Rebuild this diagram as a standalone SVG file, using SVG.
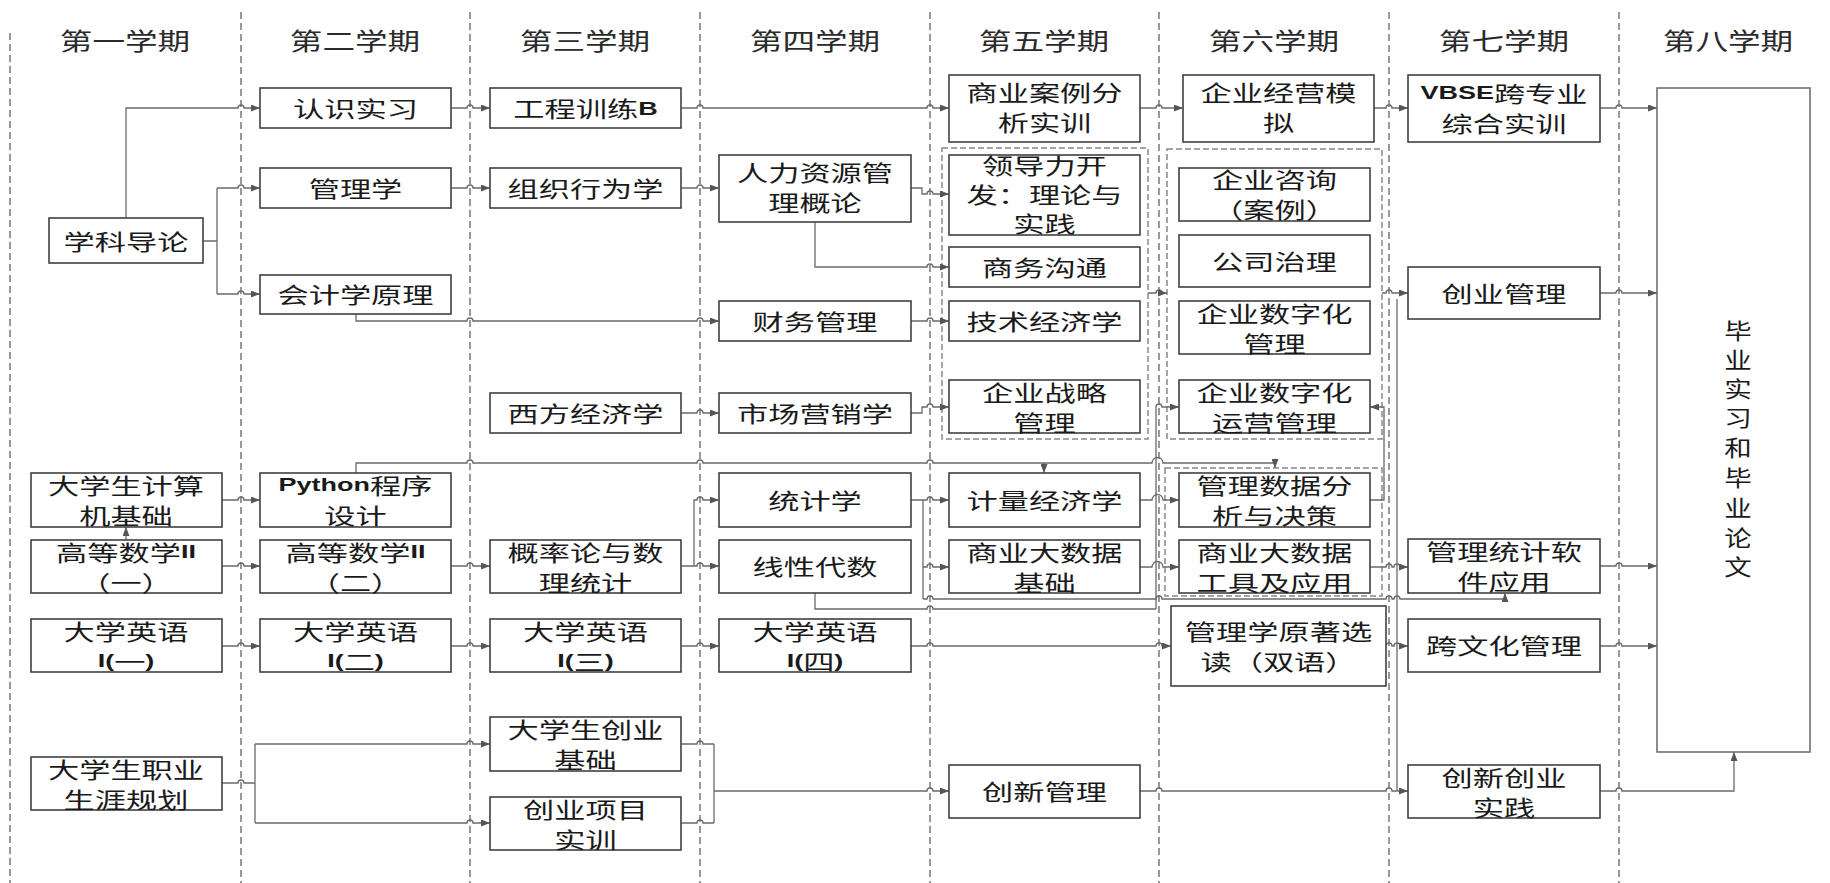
<svg xmlns="http://www.w3.org/2000/svg" width="1830" height="883" viewBox="0 0 1830 883">
<style>
.bx{fill:#fff;stroke:#404040;stroke-width:1.6}
.t{font-family:"Noto Sans CJK SC","Noto Sans",sans-serif;font-size:22px;fill:#1a1a1a;text-anchor:middle;dominant-baseline:central}
.h{font-family:"Noto Sans CJK SC","Noto Sans",sans-serif;font-size:24px;fill:#2a2a2a;text-anchor:middle;dominant-baseline:central}
.b{font-family:"Liberation Sans",Arial,sans-serif;font-weight:bold;font-size:19px}
.cn{fill:none;stroke:#6a6a6a;stroke-width:1.3}
.ar{marker-end:url(#ah)}
.dv{stroke:#555;stroke-width:1.2;stroke-dasharray:7 4;fill:none}
.grp{fill:none;stroke:#888;stroke-width:1.5;stroke-dasharray:6 3}
</style>
<defs>
<marker id="ah" markerWidth="9" markerHeight="7" refX="9" refY="3.5" orient="auto" markerUnits="userSpaceOnUse"><path d="M0,0 L9,3.5 L0,7 z" fill="#555"/></marker>
</defs>
<rect width="1830" height="883" fill="#fff"/>
<g id="dividers">
<line class="dv" x1="10" y1="33" x2="10" y2="883"/>
<line class="dv" x1="241" y1="12" x2="241" y2="883"/>
<line class="dv" x1="470" y1="12" x2="470" y2="883"/>
<line class="dv" x1="700" y1="12" x2="700" y2="883"/>
<line class="dv" x1="930" y1="12" x2="930" y2="883"/>
<line class="dv" x1="1159" y1="12" x2="1159" y2="883"/>
<line class="dv" x1="1389" y1="12" x2="1389" y2="883"/>
<line class="dv" x1="1619" y1="12" x2="1619" y2="883"/>
</g>
<g id="headers">
<text class="h" transform="translate(125 40) scale(1.36 1)">第一学期</text>
<text class="h" transform="translate(355 40) scale(1.36 1)">第二学期</text>
<text class="h" transform="translate(585 40) scale(1.36 1)">第三学期</text>
<text class="h" transform="translate(815 40) scale(1.36 1)">第四学期</text>
<text class="h" transform="translate(1044 40) scale(1.36 1)">第五学期</text>
<text class="h" transform="translate(1274 40) scale(1.36 1)">第六学期</text>
<text class="h" transform="translate(1504 40) scale(1.36 1)">第七学期</text>
<text class="h" transform="translate(1728 40) scale(1.36 1)">第八学期</text>
</g>
<g id="groups">
<rect class="grp" x="942" y="148" width="206" height="291"/>
<rect class="grp" x="1167" y="149" width="215" height="290"/>
<rect class="grp" x="1165" y="468" width="217" height="128"/>
</g>
<g id="connectors">
<path class="cn ar" d="M126 218 V108 H238 a3 3 0 0 1 6 0 H260"/>
<path class="cn" d="M203 241 H217 M217 188 V294"/>
<path class="cn ar" d="M217 188 H238 a3 3 0 0 1 6 0 H260"/>
<path class="cn ar" d="M217 294 H238 a3 3 0 0 1 6 0 H260"/>
<path class="cn ar" d="M451 108 H467 a3 3 0 0 1 6 0 H490"/>
<path class="cn ar" d="M451 188 H467 a3 3 0 0 1 6 0 H490"/>
<path class="cn ar" d="M681 108 H697 a3 3 0 0 1 6 0 H927 a3 3 0 0 1 6 0 H949"/>
<path class="cn ar" d="M1140 108 H1156 a3 3 0 0 1 6 0 H1183"/>
<path class="cn ar" d="M1374 108 H1386 a3 3 0 0 1 6 0 H1408"/>
<path class="cn ar" d="M1600 108 H1616 a3 3 0 0 1 6 0 H1657"/>
<path class="cn ar" d="M681 188 H697 a3 3 0 0 1 6 0 H719"/>
<path class="cn ar" d="M911 188 H922 V194 H927 a3 3 0 0 1 6 0 H949"/>
<path class="cn ar" d="M815 222 V267 H927 a3 3 0 0 1 6 0 H949"/>
<path class="cn ar" d="M356 314 V321 H467 a3 3 0 0 1 6 0 H697 a3 3 0 0 1 6 0 H719"/>
<path class="cn ar" d="M911 321 H927 a3 3 0 0 1 6 0 H949"/>
<path class="cn ar" d="M681 413 H697 a3 3 0 0 1 6 0 H719"/>
<path class="cn ar" d="M911 413 H922 V407 H927 a3 3 0 0 1 6 0 H949"/>
<path class="cn ar" d="M1148 293 H1156 a3 3 0 0 1 6 0 H1167"/>
<path class="cn ar" d="M1382 293 H1386 a3 3 0 0 1 6 0 H1408"/>
<path class="cn" d="M1397 299 V791"/>
<path class="cn ar" d="M1600 293 H1616 a3 3 0 0 1 6 0 H1657"/>
<path class="cn ar" d="M356 473 V463 H467 a3 3 0 0 1 6 0 H697 a3 3 0 0 1 6 0 H927 a3 3 0 0 1 6 0 H1152 a5.5 5.5 0 0 1 11 0 H1275 V468"/>
<path class="cn ar" d="M1044 463 V473"/>
<path class="cn ar" d="M222 500 H238 a3 3 0 0 1 6 0 H260"/>
<path class="cn ar" d="M126 540 V527"/>
<path class="cn ar" d="M222 566 H238 a3 3 0 0 1 6 0 H260"/>
<path class="cn ar" d="M451 566 H467 a3 3 0 0 1 6 0 H490"/>
<path class="cn ar" d="M681 566 H697 a3 3 0 0 1 6 0 H719"/>
<path class="cn ar" d="M694 566 V500 H697 a3 3 0 0 1 6 0 H719"/>
<path class="cn ar" d="M911 500 H927 a3 3 0 0 1 6 0 H949"/>
<path class="cn" d="M923 500 V599"/>
<path class="cn ar" d="M923 567 H927 a3 3 0 0 1 6 0 H949"/>
<path class="cn ar" d="M923 599 H927 a3 3 0 0 1 6 0 H1156 a3 3 0 0 1 6 0 H1386 a3 3 0 0 1 6 0 H1394 a3 3 0 0 1 6 0 H1505 V593"/>
<path class="cn" d="M815 593 V609 H927 a3 3 0 0 1 6 0 H1156"/>
<path class="cn ar" d="M1156 609 V407 a3 3 0 0 1 6 0 H1179"/>
<path class="cn ar" d="M1140 500 H1152 a5.5 5.5 0 0 1 11 0 H1179"/>
<path class="cn ar" d="M1140 567 H1152 a5.5 5.5 0 0 1 11 0 H1179"/>
<path class="cn ar" d="M1370 500 H1384 V407 H1370"/>
<path class="cn ar" d="M1370 567 H1386 a3 3 0 0 1 6 0 H1394 a3 3 0 0 1 6 0 H1408"/>
<path class="cn ar" d="M1600 566 H1616 a3 3 0 0 1 6 0 H1657"/>
<path class="cn ar" d="M222 646 H238 a3 3 0 0 1 6 0 H260"/>
<path class="cn ar" d="M451 646 H467 a3 3 0 0 1 6 0 H490"/>
<path class="cn ar" d="M681 646 H697 a3 3 0 0 1 6 0 H719"/>
<path class="cn ar" d="M911 646 H927 a3 3 0 0 1 6 0 H1156 a3 3 0 0 1 6 0 H1171"/>
<path class="cn ar" d="M1386 646 a3 3 0 0 1 6 0 H1394 a3 3 0 0 1 6 0 H1408"/>
<path class="cn ar" d="M1600 646 H1616 a3 3 0 0 1 6 0 H1657"/>
<path class="cn" d="M222 783 H238 a3 3 0 0 1 6 0 H255 M255 744 V823"/>
<path class="cn ar" d="M255 744 H467 a3 3 0 0 1 6 0 H490"/>
<path class="cn ar" d="M255 823 H467 a3 3 0 0 1 6 0 H490"/>
<path class="cn" d="M681 744 H697 a3 3 0 0 1 6 0 H714 M681 823 H697 a3 3 0 0 1 6 0 H714 M714 744 V823"/>
<path class="cn ar" d="M714 791 H927 a3 3 0 0 1 6 0 H949"/>
<path class="cn ar" d="M1140 791 H1156 a3 3 0 0 1 6 0 H1386 a3 3 0 0 1 6 0 H1408"/>
<path class="cn ar" d="M1600 791 H1616 a3 3 0 0 1 6 0 H1734 V752"/>
</g>
<g id="n-xkdl"><rect class="bx" x="49" y="218" width="154" height="45"/><text class="t" transform="translate(126 241) scale(1.42 1)">学科导论</text></g>
<g id="n-jsjjc"><rect class="bx" x="31" y="473" width="191" height="54"/><text class="t" transform="translate(126 473) scale(1.42 1)"><tspan x="0" y="11">大学生计算</tspan><tspan x="0" y="41">机基础</tspan></text></g>
<g id="n-gdsx1"><rect class="bx" x="31" y="540" width="191" height="53"/><text class="t" transform="translate(126 540) scale(1.42 1)"><tspan x="0" y="11">高等数学<tspan class="b">II</tspan></tspan><tspan x="0" y="41">（一）</tspan></text></g>
<g id="n-yy1"><rect class="bx" x="31" y="619" width="191" height="53"/><text class="t" transform="translate(126 619) scale(1.42 1)"><tspan x="0" y="11">大学英语</tspan><tspan x="0" y="41"><tspan class="b">I(</tspan>一<tspan class="b">)</tspan></tspan></text></g>
<g id="n-zysy"><rect class="bx" x="31" y="757" width="191" height="53"/><text class="t" transform="translate(126 757) scale(1.42 1)"><tspan x="0" y="11">大学生职业</tspan><tspan x="0" y="41">生涯规划</tspan></text></g>
<g id="n-rssx"><rect class="bx" x="260" y="88" width="191" height="40"/><text class="t" transform="translate(355.5 108) scale(1.42 1)">认识实习</text></g>
<g id="n-glx"><rect class="bx" x="260" y="168" width="191" height="40"/><text class="t" transform="translate(355.5 188) scale(1.42 1)">管理学</text></g>
<g id="n-kjxyl"><rect class="bx" x="260" y="275" width="191" height="39"/><text class="t" transform="translate(355.5 294) scale(1.42 1)">会计学原理</text></g>
<g id="n-python"><rect class="bx" x="260" y="473" width="191" height="54"/><text class="t" transform="translate(355.5 473) scale(1.42 1)"><tspan x="0" y="11"><tspan class="b">Python</tspan>程序</tspan><tspan x="0" y="41">设计</tspan></text></g>
<g id="n-gdsx2"><rect class="bx" x="260" y="540" width="191" height="53"/><text class="t" transform="translate(355.5 540) scale(1.42 1)"><tspan x="0" y="11">高等数学<tspan class="b">II</tspan></tspan><tspan x="0" y="41">（二）</tspan></text></g>
<g id="n-yy2"><rect class="bx" x="260" y="619" width="191" height="53"/><text class="t" transform="translate(355.5 619) scale(1.42 1)"><tspan x="0" y="11">大学英语</tspan><tspan x="0" y="41"><tspan class="b">I(</tspan>二<tspan class="b">)</tspan></tspan></text></g>
<g id="n-gcxl"><rect class="bx" x="490" y="88" width="191" height="40"/><text class="t" transform="translate(585.5 108) scale(1.42 1)">工程训练<tspan class="b">B</tspan></text></g>
<g id="n-zzxwx"><rect class="bx" x="490" y="168" width="191" height="40"/><text class="t" transform="translate(585.5 188) scale(1.42 1)">组织行为学</text></g>
<g id="n-xfjjx"><rect class="bx" x="490" y="393" width="191" height="40"/><text class="t" transform="translate(585.5 413) scale(1.42 1)">西方经济学</text></g>
<g id="n-gll"><rect class="bx" x="490" y="540" width="191" height="53"/><text class="t" transform="translate(585.5 540) scale(1.42 1)"><tspan x="0" y="11">概率论与数</tspan><tspan x="0" y="41">理统计</tspan></text></g>
<g id="n-yy3"><rect class="bx" x="490" y="619" width="191" height="53"/><text class="t" transform="translate(585.5 619) scale(1.42 1)"><tspan x="0" y="11">大学英语</tspan><tspan x="0" y="41"><tspan class="b">I(</tspan>三<tspan class="b">)</tspan></tspan></text></g>
<g id="n-cyjc"><rect class="bx" x="490" y="717" width="191" height="54"/><text class="t" transform="translate(585.5 717) scale(1.42 1)"><tspan x="0" y="11">大学生创业</tspan><tspan x="0" y="41">基础</tspan></text></g>
<g id="n-cyxm"><rect class="bx" x="490" y="797" width="191" height="53"/><text class="t" transform="translate(585.5 797) scale(1.42 1)"><tspan x="0" y="11">创业项目</tspan><tspan x="0" y="41">实训</tspan></text></g>
<g id="n-rlzy"><rect class="bx" x="719" y="155" width="192" height="67"/><text class="t" transform="translate(815 155) scale(1.42 1)"><tspan x="0" y="16">人力资源管</tspan><tspan x="0" y="46">理概论</tspan></text></g>
<g id="n-cwgl"><rect class="bx" x="719" y="301" width="192" height="40"/><text class="t" transform="translate(815 321) scale(1.42 1)">财务管理</text></g>
<g id="n-scyx"><rect class="bx" x="719" y="393" width="192" height="40"/><text class="t" transform="translate(815 413) scale(1.42 1)">市场营销学</text></g>
<g id="n-tjx"><rect class="bx" x="719" y="473" width="192" height="54"/><text class="t" transform="translate(815 500) scale(1.42 1)">统计学</text></g>
<g id="n-xxds"><rect class="bx" x="719" y="540" width="192" height="53"/><text class="t" transform="translate(815 566) scale(1.42 1)">线性代数</text></g>
<g id="n-yy4"><rect class="bx" x="719" y="619" width="192" height="53"/><text class="t" transform="translate(815 619) scale(1.42 1)"><tspan x="0" y="11">大学英语</tspan><tspan x="0" y="41"><tspan class="b">I(</tspan>四<tspan class="b">)</tspan></tspan></text></g>
<g id="n-syal"><rect class="bx" x="949" y="75" width="191" height="67"/><text class="t" transform="translate(1044.5 75) scale(1.42 1)"><tspan x="0" y="16">商业案例分</tspan><tspan x="0" y="46">析实训</tspan></text></g>
<g id="n-ldl"><rect class="bx" x="949" y="155" width="191" height="80"/><text class="t" transform="translate(1044.5 155) scale(1.42 1)"><tspan x="0" y="9">领导力开</tspan><tspan x="0" y="38">发：理论与</tspan><tspan x="0" y="67">实践</tspan></text></g>
<g id="n-swgt"><rect class="bx" x="949" y="247" width="191" height="40"/><text class="t" transform="translate(1044.5 267) scale(1.42 1)">商务沟通</text></g>
<g id="n-jsjj"><rect class="bx" x="949" y="301" width="191" height="40"/><text class="t" transform="translate(1044.5 321) scale(1.42 1)">技术经济学</text></g>
<g id="n-qyzl"><rect class="bx" x="949" y="380" width="191" height="53"/><text class="t" transform="translate(1044.5 380) scale(1.42 1)"><tspan x="0" y="11">企业战略</tspan><tspan x="0" y="41">管理</tspan></text></g>
<g id="n-jljj"><rect class="bx" x="949" y="473" width="191" height="54"/><text class="t" transform="translate(1044.5 500) scale(1.42 1)">计量经济学</text></g>
<g id="n-sydsj"><rect class="bx" x="949" y="540" width="191" height="53"/><text class="t" transform="translate(1044.5 540) scale(1.42 1)"><tspan x="0" y="11">商业大数据</tspan><tspan x="0" y="41">基础</tspan></text></g>
<g id="n-cxgl"><rect class="bx" x="949" y="765" width="191" height="53"/><text class="t" transform="translate(1044.5 791) scale(1.42 1)">创新管理</text></g>
<g id="n-qyjy"><rect class="bx" x="1183" y="75" width="191" height="67"/><text class="t" transform="translate(1278.5 75) scale(1.42 1)"><tspan x="0" y="16">企业经营模</tspan><tspan x="0" y="46">拟</tspan></text></g>
<g id="n-qyzx"><rect class="bx" x="1179" y="168" width="191" height="53"/><text class="t" transform="translate(1274.5 168) scale(1.42 1)"><tspan x="0" y="10">企业咨询</tspan><tspan x="0" y="40">（案例）</tspan></text></g>
<g id="n-gszl"><rect class="bx" x="1179" y="235" width="191" height="52"/><text class="t" transform="translate(1274.5 261) scale(1.42 1)">公司治理</text></g>
<g id="n-szhgl"><rect class="bx" x="1179" y="301" width="191" height="53"/><text class="t" transform="translate(1274.5 301) scale(1.42 1)"><tspan x="0" y="11">企业数字化</tspan><tspan x="0" y="41">管理</tspan></text></g>
<g id="n-szhyy"><rect class="bx" x="1179" y="380" width="191" height="53"/><text class="t" transform="translate(1274.5 380) scale(1.42 1)"><tspan x="0" y="11">企业数字化</tspan><tspan x="0" y="41">运营管理</tspan></text></g>
<g id="n-glsj"><rect class="bx" x="1179" y="473" width="191" height="54"/><text class="t" transform="translate(1274.5 473) scale(1.42 1)"><tspan x="0" y="11">管理数据分</tspan><tspan x="0" y="41">析与决策</tspan></text></g>
<g id="n-dsjgj"><rect class="bx" x="1179" y="540" width="191" height="53"/><text class="t" transform="translate(1274.5 540) scale(1.42 1)"><tspan x="0" y="11">商业大数据</tspan><tspan x="0" y="41">工具及应用</tspan></text></g>
<g id="n-yzxd"><rect class="bx" x="1171" y="606" width="215" height="80"/><text class="t" transform="translate(1278.5 606) scale(1.42 1)"><tspan x="0" y="24">管理学原著选</tspan><tspan x="0" y="54">读（双语）</tspan></text></g>
<g id="n-vbse"><rect class="bx" x="1408" y="75" width="192" height="67"/><text class="t" transform="translate(1504 75) scale(1.42 1)"><tspan x="0" y="17"><tspan class="b">VBSE</tspan>跨专业</tspan><tspan x="0" y="47">综合实训</tspan></text></g>
<g id="n-cygl"><rect class="bx" x="1408" y="267" width="192" height="52"/><text class="t" transform="translate(1504 293) scale(1.42 1)">创业管理</text></g>
<g id="n-gltj"><rect class="bx" x="1408" y="539" width="192" height="54"/><text class="t" transform="translate(1504 539) scale(1.42 1)"><tspan x="0" y="11">管理统计软</tspan><tspan x="0" y="41">件应用</tspan></text></g>
<g id="n-kwh"><rect class="bx" x="1408" y="619" width="192" height="53"/><text class="t" transform="translate(1504 645) scale(1.42 1)">跨文化管理</text></g>
<g id="n-cxcy"><rect class="bx" x="1408" y="765" width="192" height="53"/><text class="t" transform="translate(1504 765) scale(1.42 1)"><tspan x="0" y="11">创新创业</tspan><tspan x="0" y="41">实践</tspan></text></g>
<g id="n-bysx"><rect x="1657" y="88" width="153" height="664" fill="#fff" stroke="#707070" stroke-width="1.6"/><text class="t" transform="translate(1738 0) scale(1.25 1)"><tspan x="0" y="329">毕</tspan><tspan x="0" y="358">业</tspan><tspan x="0" y="387">实</tspan><tspan x="0" y="416">习</tspan><tspan x="0" y="446">和</tspan><tspan x="0" y="476">毕</tspan><tspan x="0" y="506">业</tspan><tspan x="0" y="536">论</tspan><tspan x="0" y="565">文</tspan></text></g>
</svg>
